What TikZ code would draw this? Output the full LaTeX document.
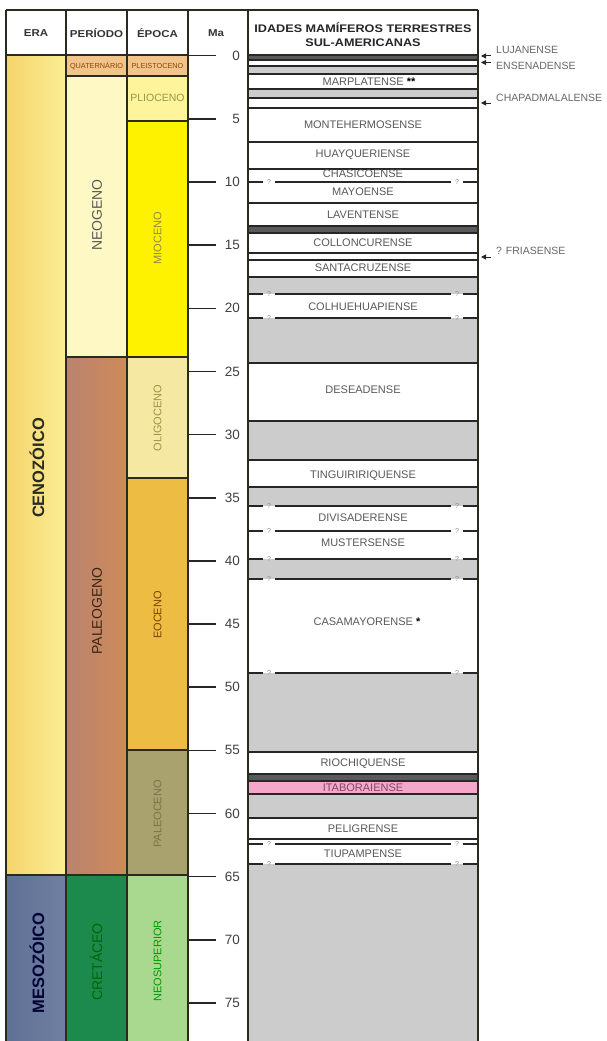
\documentclass[tikz,border=0pt]{standalone}
\usepackage{fontspec}
\setmainfont{Liberation Sans}
\newfontfamily\largo[FakeStretch=1.15]{Liberation Sans}
\usetikzlibrary{arrows.meta}

\definecolor{cenoL}{HTML}{F5D46C}
\definecolor{cenoR}{HTML}{FBEE94}
\definecolor{mesoL}{HTML}{5F7095}
\definecolor{mesoR}{HTML}{7080A2}
\definecolor{quat}{HTML}{F1C48C}
\definecolor{neog}{HTML}{FEF8C4}
\definecolor{paleogL}{HTML}{B98370}
\definecolor{paleogR}{HTML}{CF8A58}
\definecolor{cret}{HTML}{1B8A4C}
\definecolor{plio}{HTML}{FEF49C}
\definecolor{mio}{HTML}{FFF200}
\definecolor{olig}{HTML}{F5E8A2}
\definecolor{eoc}{HTML}{EDBC42}
\definecolor{paleoc}{HTML}{A9A16E}
\definecolor{neosup}{HTML}{A8D98F}
\definecolor{cinza}{HTML}{CCCCCC}
\definecolor{escuro}{HTML}{5A5A5A}
\definecolor{rosa}{HTML}{F3A8CB}
\definecolor{borda}{HTML}{2B2A20}

\newcommand{\tam}[1]{\fontsize{#1}{#1}\selectfont}

\tikzstyle{divisao} = [draw=borda, line width=1.3pt]
\tikzstyle{faixa} = [draw=black!85, line width=1.2pt]
\tikzstyle{marca} = [draw=black!85, line width=1.6pt]
\tikzstyle{cabec} = [font=\largo\bfseries\tam{10}, text=black!80, inner sep=1pt]
\tikzstyle{titulo} = [font=\largo\bfseries\tam{11}, text=black!85, inner sep=1pt]
\tikzstyle{vertical} = [rotate=90, inner sep=1pt]
\tikzstyle{idade} = [font=\tam{11}, text=black!65, inner sep=1pt]
\tikzstyle{lado} = [font=\tam{10.5}, text=black!60, inner sep=1pt, anchor=west]
\tikzstyle{interrog} = [font=\tam{7}, text=black!45, inner sep=4pt]
\tikzstyle{numero} = [font=\tam{13.5}, text=black!75, inner sep=0pt, anchor=east]
\tikzstyle{seta} = [draw=black!85, line width=1pt, -{Triangle[length=5pt,width=5pt]}]

\begin{document}
\begin{tikzpicture}[x=1pt, y=-1pt]
\useasboundingbox (0,0) rectangle (606,1041);

    % era, periodo, epoca
    \shade[left color=cenoL, right color=cenoR] (6,55) rectangle (66,875);
    \shade[left color=mesoL, right color=mesoR] (6,875) rectangle (66,1046);
    \shade[left color=paleogL, right color=paleogR] (66,357) rectangle (127,875);
    \foreach \xa/\ya/\xb/\yb/\cor in {66/55/127/76/quat, 66/76/127/357/neog, 66/875/127/1046/cret,
        127/55/188/76/quat, 127/76/188/121/plio, 127/121/188/357/mio, 127/357/188/478/olig,
        127/478/188/750/eoc, 127/750/188/875/paleoc, 127/875/188/1046/neosup}
        \fill[\cor] (\xa,\ya) rectangle (\xb,\yb);

    % idades: fundo cinza e faixas
    \fill[cinza] (248,55) rectangle (478,1046);
    \foreach \ya/\yb in {60/66, 74/89, 98/226, 233/277, 294/318, 363/421, 460/487,
        506/559, 579/673, 752/774, 818/864}
        \fill[white] (248,\ya) rectangle (478,\yb);
    \foreach \ya/\yb/\cor in {55/60/escuro, 226/233/escuro, 774/781/escuro, 781/794/rosa}
        \fill[\cor] (248,\ya) rectangle (478,\yb);

    \foreach \y in {60, 66, 74, 89, 98, 108, 142, 169, 203, 226, 233, 253, 260, 277,
        363, 421, 460, 487, 752, 774, 781, 794, 818, 839}
        \draw[faixa] (248,\y) -- (478,\y);

    % limites incertos
    \foreach \y in {182, 294, 318, 506, 531, 559, 579, 673, 844, 864} {
        \node[interrog] (qa\y) at (269,\y) {?};
        \node[interrog] (qb\y) at (457,\y) {?};
        \draw[faixa] (248,\y) -- (qa\y);
        \draw[faixa] (qa\y) -- (qb\y);
        \draw[faixa] (qb\y) -- (478,\y);
    }

    % linhas das colunas
    \foreach \xa/\xb/\y in {6/188/875, 66/188/76, 66/188/357, 127/188/121, 127/188/478, 127/188/750}
        \draw[divisao] (\xa,\y) -- (\xb,\y);
    \draw[divisao] (6,10) -- (478,10);
    \draw[divisao] (6,55) -- (188,55);
    \draw[divisao] (248,55) -- (478,55);
    \foreach \x in {66, 127, 188, 248, 478}
        \draw[divisao] (\x,10) -- (\x,1046);
    \draw[divisao, line width=2.4pt] (6,10) -- (6,1046);

    % cabecalho
    \foreach \x/\name/\txt in {36/hera/ERA, 96.5/hper/PERÍODO, 157.5/hepo/ÉPOCA, 216/hma/Ma}
        \node[cabec] (\name) at (\x,33) {\txt};
    \node[titulo] (hid1) at (363,28) {IDADES MAMÍFEROS TERRESTRES};
    \node[titulo] (hid2) at (363,43) {SUL-AMERICANAS};

    % escala em Ma
    \foreach \m in {0,5,...,75} {
        \coordinate (m\m) at (189,{55.7+12.63*\m});
        \node[numero] (t\m) at (240,{55.7+12.63*\m}) {\m};
        \draw[marca] (m\m) -- ++(27,0);
    }

    % nomes das unidades
    \node[vertical, font=\bfseries\tam{16.5}, text=borda] (ceno) at (37,468) {CENOZÓICO};
    \node[vertical, font=\bfseries\tam{16.5}, text=black!80!blue] (meso) at (37,963) {MESOZÓICO};
    \node[vertical, font=\tam{14}, text=black!65] (neo) at (97,215) {NEOGENO};
    \node[vertical, font=\tam{14}, text=black!70!brown] (paleo) at (97,611) {PALEOGENO};
    \node[vertical, font=\tam{14}, text=black!60!green] (cret) at (96,962) {CRETÁCEO};
    \foreach \y/\name/\txt/\cor in {238/mio/MIOCENO/black!50!yellow, 418/olig/OLIGOCENO/black!45!yellow,
        615/eoc/EOCENO/black!50!orange, 814/paleoc/PALEOCENO/black!60!yellow,
        961/neosup/NEOSUPERIOR/black!40!green}
        \node[vertical, font=\tam{11}, text=\cor] (\name) at (157.5,\y) {\txt};
    \node[font=\tam{10.5}, text=black!45!yellow, inner sep=1pt] (plio) at (157.5,98) {PLIOCENO};
    \node[font=\tam{7.3}, text=black!45!orange, inner sep=0pt] (quat) at (96.5,66) {QUATERNÁRIO};
    \node[font=\tam{7.3}, text=black!45!orange, inner sep=0pt] (pleist) at (157.5,66) {PLEISTOCENO};

    % idades
    \foreach \y/\name/\txt in {125/mont/MONTEHERMOSENSE, 155/huay/HUAYQUERIENSE, 174/chas/CHASICOENSE,
        192/mayo/MAYOENSE, 215/lave/LAVENTENSE, 243/coll/COLLONCURENSE, 268/sant/SANTACRUZENSE,
        307/colh/COLHUEHUAPIENSE, 390/dese/DESEADENSE, 476/ting/TINGUIRIRIQUENSE,
        518/divi/DIVISADERENSE, 543/must/MUSTERSENSE, 764/rioc/RIOCHIQUENSE,
        829/peli/PELIGRENSE, 854/tiup/TIUPAMPENSE}
        \node[idade] (\name) at (363,\y) {\txt};
    \node[idade] (marp) at (369,82) {MARPLATENSE \textcolor{black}{\textbf{**}}};
    \node[idade] (casa) at (367,622) {CASAMAYORENSE \textcolor{black}{\textbf{*}}};
    \node[idade, text=black!55!magenta] (itab) at (363,787.5) {ITABORAIENSE};

    % idades fora da coluna
    \foreach \ys/\yt/\name/\txt in {56/50/luj/LUJANENSE, 62.5/66/ens/ENSENADENSE,
        103/98/chap/CHAPADMALALENSE, 257/251/fri/? FRIASENSE} {
        \node[lado] (\name) at (495,\yt) {\txt};
        \coordinate (\name a) at (491,\ys);
        \coordinate (\name b) at (481,\ys);
        \draw[seta] (\name a) -- (\name b);
    }

\end{tikzpicture}
\end{document}
